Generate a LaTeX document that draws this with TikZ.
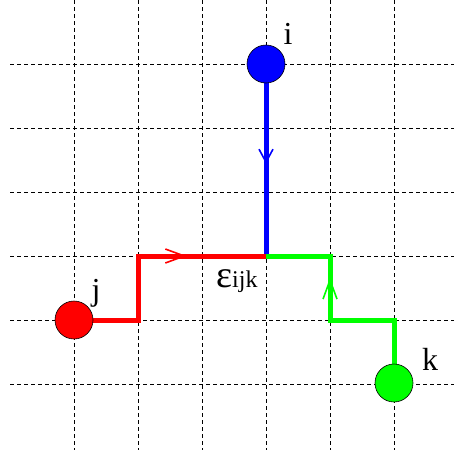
\documentclass[tikz,border=0pt]{standalone}
\usepackage{fontspec}
\setmainfont{Liberation Serif}
\usetikzlibrary{arrows.meta,decorations.markings}
\begin{document}
\begin{tikzpicture}[x=1pt,y=-1pt,
  gridline/.style={black,line width=0.8pt,dash pattern=on 4pt off 3pt},
  pathline/.style={line width=5pt},
  ball/.style={circle,draw=black,line width=0.6pt,minimum size=38pt,inner sep=0pt},
  lbl/.style={font=\fontsize{32}{32}\selectfont,inner sep=0pt},
  midarrow/.style 2 args={postaction={decorate},decoration={markings,
     mark=at position #1 with {\arrow[line width=1.6pt]{Straight Barb[length=#2,width=14pt]}}}}
]
\useasboundingbox (0,0) rectangle (454,450);
% grid
\foreach \y in {64,128,192,256,320,384} \draw[gridline] (10,\y) -- (454,\y);
\foreach \x in {74,138,202,266,330,394} \draw[gridline] (\x,0) -- (\x,450);
% coordinates
\coordinate (o) at (266,256);
\coordinate (r1) at (138,320);
\coordinate (r2) at (138,256);
\coordinate (g1) at (394,320);
\coordinate (g2) at (330,320);
\coordinate (g3) at (330,256);
\coordinate (ic) at (266,64);
\coordinate (jc) at (74,320);
\coordinate (kc) at (394,383);
% paths
\draw[pathline,blue,midarrow={0.52}{13pt}] (ic) -- (o);
\draw[pathline,red] (jc) -- (r1) -- (r2) -- (o);
\draw[pathline,red,midarrow={0.38}{19pt}] (r2) -- (o);
\draw[pathline,green] (kc) -- (g1) -- (g2) -- (g3) -- (o);
\draw[pathline,green,midarrow={0.66}{19pt}] (g2) -- (g3);
% balls
\node[ball,fill=blue] (i) at (ic) {};
\node[ball,fill=red] (j) at (jc) {};
\node[ball,fill=green] (k) at (kc) {};
% labels
\node[lbl,anchor=base] (li) at (288,44) {i};
\node[lbl,anchor=base] (lj) at (96,300) {j};
\node[lbl,anchor=base] (lk) at (430,370) {k};
\node[inner sep=0pt,anchor=base west] (eps) at (216,287) {\fontsize{38}{38}\selectfont ε\fontsize{24}{24}\selectfont ijk};
\end{tikzpicture}
\end{document}
